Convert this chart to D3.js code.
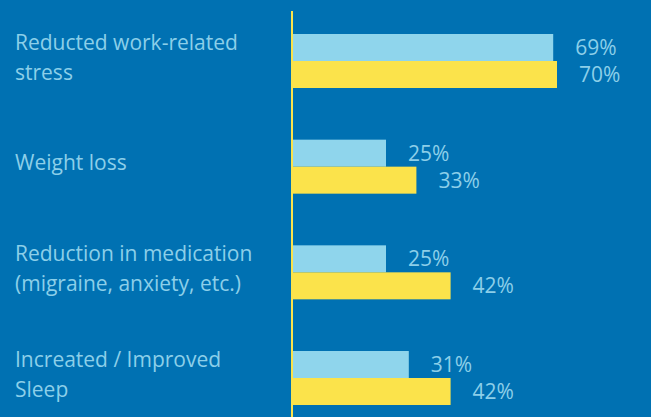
<!DOCTYPE html>
<html>
<head>
<meta charset="utf-8">
<script src="https://cdn.jsdelivr.net/npm/d3@7"></script>
<style>
  html, body { margin: 0; padding: 0; background: #0071b2; }
  svg { display: block; }
</style>
</head>
<body>
<script>
// chart data
var categories = ["Reducted work-related stress", "Weight loss", "Reduction in medication (migraine, anxiety, etc.)", "Increated / Improved Sleep"];
var seriesNames = ["first", "second"];
var firstValues = [69, 25, 25, 31];
var secondValues = [70, 33, 42, 42];

var width = 651, height = 417;
var barColors = {first: "#8fd5ec", second: "#fbe34b"};
var textColor = "#8ccfe9";

var svg = d3.select("body").append("svg")
            .attr("width", width)
            .attr("height", height);

svg.append("rect")
   .attr("width", width)
   .attr("height", height)
   .attr("fill", "#0071b2");

var x = d3.scaleLinear()
          .domain([0, 100])
          .range([291, 291 + 380]);

var y = d3.scaleBand()
          .domain(categories)
          .range([34, 405])
          .paddingInner(0.489)
          .paddingOuter(0);

var ySub = d3.scaleBand()
             .domain(seriesNames)
             .range([0, y.bandwidth()]);

var rows = categories.map(function(c, i) {
  return {name: c, values: [{key: "first", v: firstValues[i]}, {key: "second", v: secondValues[i]}]};
});

// groups of bars
var group = svg.selectAll("g.row")
               .data(rows)
               .enter().append("g")
               .attr("class", "row")
               .attr("transform", function(d) { return "translate(0," + y(d.name) + ")"; });

group.selectAll("rect")
     .data(function(d) { return d.values; })
     .enter().append("rect")
     .attr("x", x(0))
     .attr("y", function(d) { return ySub(d.key); })
     .attr("width", function(d) { return x(d.v) - x(0); })
     .attr("height", ySub.bandwidth())
     .attr("fill", function(d) { return barColors[d.key]; });

// value labels
group.selectAll("text.val")
     .data(function(d) { return d.values; })
     .enter().append("text")
     .attr("class", "val")
     .attr("x", function(d) { return x(d.v) + 22; })
     .attr("y", function(d) { return ySub(d.key) + ySub.bandwidth() / 2; })
     .attr("dy", "0.36em")
     .attr("fill", textColor)
     .style("font-family", "'Open Sans', sans-serif")
     .style("font-size", "21px")
     .text(function(d) { return d.v + "%"; });

// vertical axis line
svg.append("line")
   .attr("x1", 292)
   .attr("x2", 292)
   .attr("y1", 11)
   .attr("y2", height)
   .attr("stroke", "#fbe34b")
   .attr("stroke-width", 2);

// category labels, wrapped to two lines when too long
var maxW = 248, lineH = 30;
var labels = svg.selectAll("text.cat")
                .data(categories)
                .enter().append("text")
                .attr("class", "cat")
                .attr("x", 15)
                .attr("fill", textColor)
                .style("font-family", "'Open Sans', sans-serif")
                .style("font-size", "21px");

labels.each(function(d) {
  var t = d3.select(this);
  var words = d.split(" ");
  var lines = [];
  var line = [];
  var tspan = t.append("tspan").attr("x", 15);
  words.forEach(function(w) {
    line.push(w);
    tspan.text(line.join(" "));
    if (tspan.node().getComputedTextLength() > maxW && line.length > 1) {
      line.pop();
      lines.push(line.join(" "));
      line = [w];
    }
  });
  lines.push(line.join(" "));
  tspan.remove();
  var mid = y(d) + y.bandwidth() / 2 - 4;
  var top = mid - (lines.length - 1) * lineH / 2;
  lines.forEach(function(l, i) {
    t.append("tspan")
     .attr("x", 15)
     .attr("y", top + i * lineH)
     .attr("dy", "0.36em")
     .text(l);
  });
});
</script>
</body>
</html>
